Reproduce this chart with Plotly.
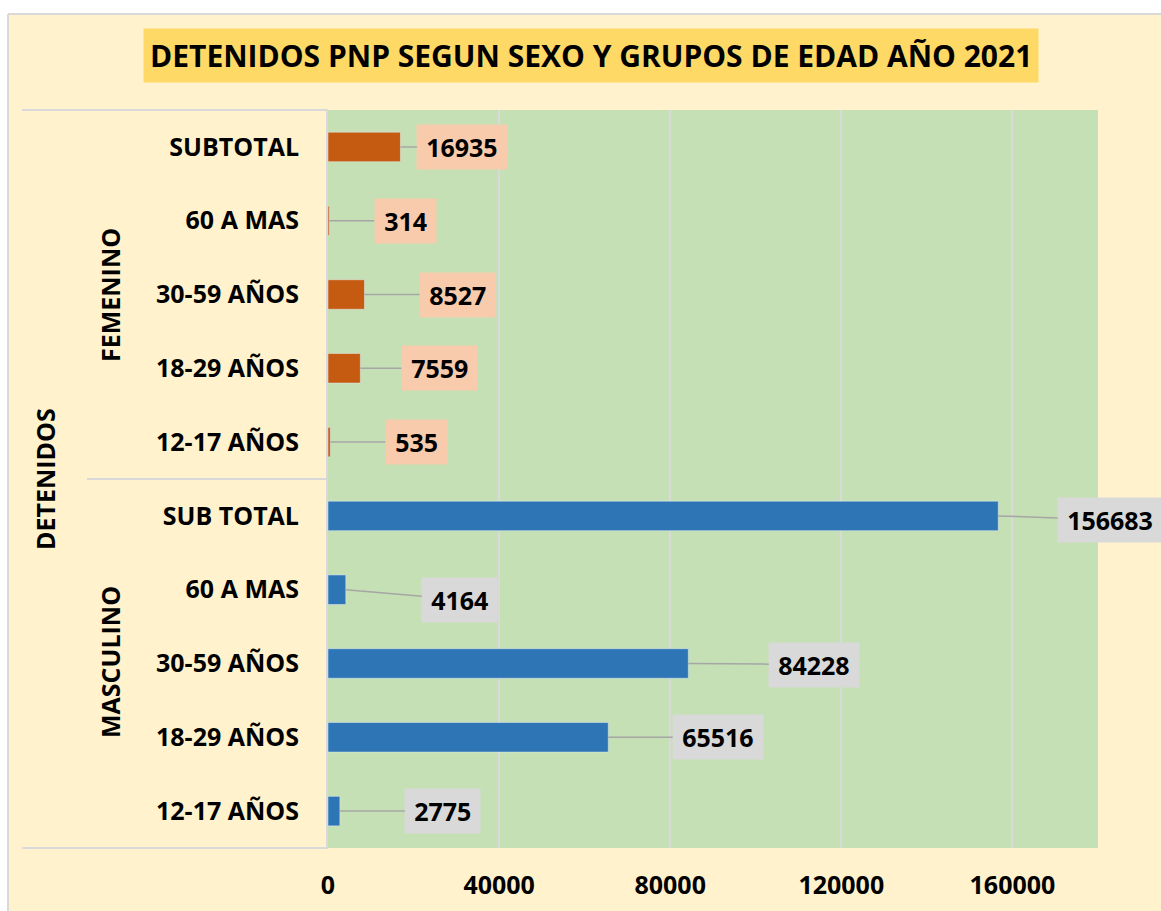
import plotly.graph_objects as go

# ---- data ----
age_groups_fem = ["SUBTOTAL", "60 A MAS", "30-59 AÑOS", "18-29 AÑOS", "12-17 AÑOS"]
values_fem = [16935, 314, 8527, 7559, 535]
age_groups_masc = ["SUB TOTAL", "60 A MAS", "30-59 AÑOS", "18-29 AÑOS", "12-17 AÑOS"]
values_masc = [156683, 4164, 84228, 65516, 2775]
group_names = ["FEMENINO", "MASCULINO"]
outer_name = "DETENIDOS"
title_text = "DETENIDOS PNP SEGUN SEXO Y GRUPOS DE EDAD AÑO 2021"
x_ticks = [0, 40000, 80000, 120000, 160000]

# label offsets (pixels) from bar end to label centre
dx_fem = [62, 76, 93, 79, 86]
dy_fem = [0, 0, 0, 0, 0]
dx_masc = [112, 114, 126, 110, 103]
dy_masc = [4, 10, 1, 0, 0]

FONT = "Open Sans"
BG = "#FFF2CC"
PLOT_BG = "#C5E0B4"
C_FEM = "#C55A11"
C_MASC = "#2E75B6"
LBL_FEM = "#F8CBAD"
LBL_MASC = "#D9D9D9"
LINE = "#D9D9D9"
PAD = "\u2009"

n_m = len(values_masc)
n_f = len(values_fem)
# y positions: masculine rows at bottom, feminine on top; lists are top-down
y_masc = [n_m - 1 - i for i in range(n_m)]
y_fem = [n_m + n_f - 1 - i for i in range(n_f)]

fig = go.Figure()
fig.add_trace(go.Bar(x=values_fem, y=y_fem, orientation="h", marker_color=C_FEM,
                     width=0.4, showlegend=False, hoverinfo="x"))
fig.add_trace(go.Bar(x=values_masc, y=y_masc, orientation="h", marker_color=C_MASC,
                     width=0.4, showlegend=False, hoverinfo="x"))

annotations = []
lbl_font = dict(family=FONT, size=25, color="black", weight="bold")
for v, y, dx, dy in zip(values_fem, y_fem, dx_fem, dy_fem):
    annotations.append(dict(x=v, y=y, xref="x", yref="y", text=PAD + str(v) + PAD,
                            showarrow=True, arrowhead=0, arrowwidth=1.5,
                            arrowcolor="#A6A6A6", standoff=0, ax=dx, ay=dy,
                            bgcolor=LBL_FEM, borderpad=5, font=lbl_font))
for v, y, dx, dy in zip(values_masc, y_masc, dx_masc, dy_masc):
    annotations.append(dict(x=v, y=y, xref="x", yref="y", text=PAD + str(v) + PAD,
                            showarrow=True, arrowhead=0, arrowwidth=1.5,
                            arrowcolor="#A6A6A6", standoff=0, ax=dx, ay=dy,
                            bgcolor=LBL_MASC, borderpad=5, font=lbl_font))


# screen-pixel -> paper helpers (plot area spans x 328..1098, y 110..848)
def px_x(p):
    return (p - 328) / 770


def px_y(p):
    return (848 - p) / 738


# Title box
annotations.append(dict(x=px_x(590.5), y=px_y(55.5), xref="paper", yref="paper",
                        xanchor="center", yanchor="middle", text=title_text,
                        showarrow=False, bgcolor="#FFD966", borderpad=6,
                        font=dict(family=FONT, size=30, color="black", weight="bold")))
# group labels
annotations.append(dict(x=px_x(110), y=px_y(295), xref="paper", yref="paper",
                        xanchor="center", yanchor="middle",
                        text=group_names[0], textangle=-90, showarrow=False, font=lbl_font))
annotations.append(dict(x=px_x(110), y=px_y(662), xref="paper", yref="paper",
                        xanchor="center", yanchor="middle",
                        text=group_names[1], textangle=-90, showarrow=False, font=lbl_font))
annotations.append(dict(x=px_x(45), y=px_y(479), xref="paper", yref="paper",
                        xanchor="center", yanchor="middle",
                        text=outer_name, textangle=-90, showarrow=False, font=lbl_font))

shapes = [
    # white strips outside the chart frame
    dict(type="rect", xref="paper", yref="paper", x0=px_x(-5), x1=px_x(1200),
         y0=px_y(14), y1=px_y(-5), fillcolor="white", line_width=0, layer="above"),
    dict(type="rect", xref="paper", yref="paper", x0=px_x(-5), x1=px_x(8),
         y0=px_y(1000), y1=px_y(-5), fillcolor="white", line_width=0, layer="above"),
    dict(type="line", xref="paper", yref="paper", x0=px_x(8), x1=px_x(1200),
         y0=px_y(14), y1=px_y(14), line=dict(color="#D9D9D9", width=2)),
    dict(type="line", xref="paper", yref="paper", x0=px_x(8), x1=px_x(8),
         y0=px_y(14), y1=px_y(1000), line=dict(color="#D9D9D9", width=2)),
    # hierarchy lines
    dict(type="line", xref="paper", yref="paper", x0=px_x(22), x1=0, y0=1, y1=1,
         line=dict(color=LINE, width=2)),
    dict(type="line", xref="paper", yref="paper", x0=px_x(87), x1=0,
         y0=n_m / (n_m + n_f), y1=n_m / (n_m + n_f), line=dict(color=LINE, width=2)),
    dict(type="line", xref="paper", yref="paper", x0=px_x(22), x1=0, y0=0, y1=0,
         line=dict(color=LINE, width=2)),
]

tick_font = dict(family=FONT, size=25, color="black", weight="bold")
fig.update_layout(
    width=1161, height=911,
    margin=dict(l=328, r=63, t=110, b=63),
    paper_bgcolor=BG, plot_bgcolor=PLOT_BG,
    annotations=annotations,
    shapes=shapes,
    xaxis=dict(range=[0, 180000], tickvals=x_ticks, ticktext=[str(t) for t in x_ticks],
               showgrid=True, gridcolor=LINE, gridwidth=1.5, zeroline=False,
               tickfont=tick_font, ticklabelstandoff=20, showline=False,
               automargin=False),
    yaxis=dict(range=[-0.5, n_m + n_f - 0.5], tickvals=y_fem + y_masc,
               ticktext=age_groups_fem + age_groups_masc, showgrid=False, zeroline=False,
               tickfont=tick_font, ticklabelstandoff=22, showline=True,
               linecolor=LINE, linewidth=2, automargin=False),
)

fig.write_html("out.html", config={"displayModeBar": False},
               post_script="document.body.style.margin='0';document.body.style.overflow='hidden';")
